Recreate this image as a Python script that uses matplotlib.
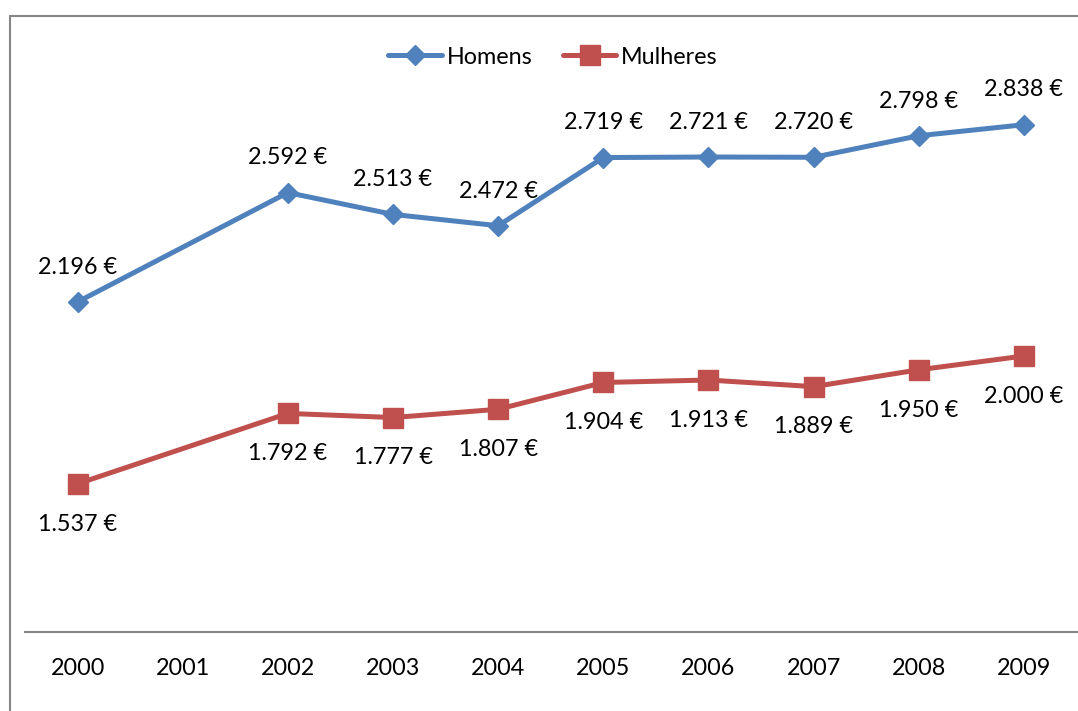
import numpy as np
import matplotlib.pyplot as plt
from matplotlib.patches import Rectangle

plt.rcParams['font.family'] = ['Lato', 'DejaVu Sans']

anos = ['2000', '2001', '2002', '2003', '2004', '2005', '2006', '2007', '2008', '2009']
homens = [2.196, np.nan, 2.592, 2.513, 2.472, 2.719, 2.721, 2.720, 2.798, 2.838]
mulheres = [1.537, np.nan, 1.792, 1.777, 1.807, 1.904, 1.913, 1.889, 1.950, 2.000]

W, H = 1078, 711
fig = plt.figure(figsize=(W / 100, H / 100), dpi=100)
ax = fig.add_axes([25 / W, (H - 632) / H, (1076.5 - 25) / W, (632 - 80) / H])

x = np.arange(len(anos))
blue, red = '#4F81BD', '#C0504D'

def plot_serie(vals, cor, marker, ms, label, dy):
    v = np.array(vals)
    ok = ~np.isnan(v)
    ax.plot(x[ok], v[ok], color=cor, lw=3.6, marker=marker, ms=ms,
            label=label, solid_joinstyle='round', solid_capstyle='round')
    for xi, vi in zip(x[ok], v[ok]):
        ax.annotate(f'{vi:.3f} €', (xi, vi), xytext=(0, dy), textcoords='offset points',
                    ha='center', va='center', fontsize=16.8, color='black')

plot_serie(homens, blue, 'D', 10, 'Homens', 25)
plot_serie(mulheres, red, 's', 14, 'Mulheres', -29)

ax.set_xlim(-0.5, len(anos) - 0.5)
ax.set_ylim(1.0, 3.0)
ax.set_xticks(x)
ax.set_xticklabels(anos, fontsize=16.8)
ax.tick_params(axis='x', length=0, pad=19)
ax.set_yticks([])
for s in ['top', 'right', 'left']:
    ax.spines[s].set_visible(False)
ax.spines['bottom'].set_color('#868686')
ax.spines['bottom'].set_linewidth(1.5)

leg = fig.legend(loc='center', bbox_to_anchor=(553 / W, 1 - 57 / H), ncol=2,
                 frameon=False, fontsize=16.8, handlelength=2.3, columnspacing=1.3,
                 handletextpad=0.2)

fig.patches.append(Rectangle((10 / W, -0.1), 1.2, 1.1 - 16 / H, transform=fig.transFigure,
                             fill=False, edgecolor='#868686', lw=1.5))

fig.savefig('out.png', dpi=100)
